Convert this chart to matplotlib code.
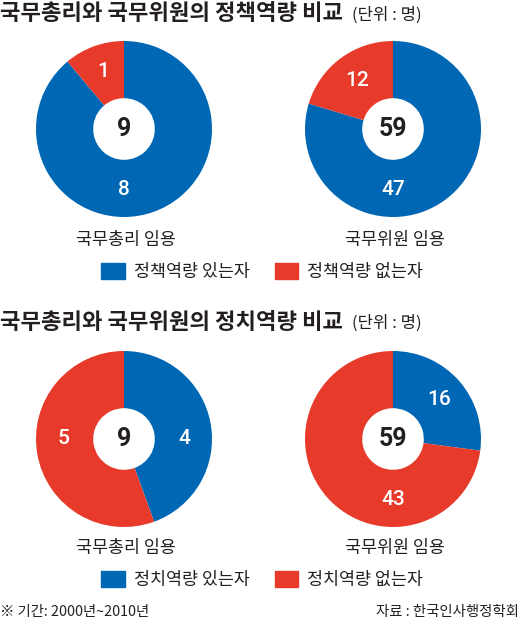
import matplotlib
matplotlib.use("Agg")
from matplotlib import pyplot as plt
from matplotlib.patches import Patch
import numpy as np

plt.rcParams["font.family"] = ["Noto Sans CJK KR", "DejaVu Sans"]

BLUE = "#0067b4"
RED = "#e73a2a"
INK = "#231f20"

W, H = 520, 627

groups = ["국무총리 임용", "국무위원 임용"]
policy_yes = [8, 47]
policy_no = [1, 12]
politics_yes = [4, 16]
politics_no = [5, 43]

titles = ["국무총리와 국무위원의 정책역량 비교", "국무총리와 국무위원의 정치역량 비교"]
legend_labels = [["정책역량 있는자", "정책역량 없는자"], ["정치역량 있는자", "정치역량 없는자"]]
unit = "(단위 : 명)"
note = "※ 기간: 2000년~2010년"
source = "자료 : 한국인사행정학회"

# where the value labels sit (degrees, per donut: [yes, no]); None = wedge middle
label_angles = [[(-90, None), (-90, None)], [(0, 180), (None, -90)]]

fig = plt.figure(figsize=(W / 100, H / 100), dpi=100)


def fx(px):
    return px / W


def fy(py):
    return 1 - py / H


def donut(cx, cy, yes, no, angles, r=88):
    ax = fig.add_axes([fx(cx - r), fy(cy + r), 2 * r / W, 2 * r / H])
    total = yes + no
    wedges, _ = ax.pie([yes, no], colors=[BLUE, RED], startangle=90,
                       counterclock=False, radius=1,
                       wedgeprops=dict(width=0.65, linewidth=0))
    for w, val, ang in zip(wedges, [yes, no], angles):
        if ang is None:
            ang = (w.theta1 + w.theta2) / 2
        a = np.deg2rad(ang)
        ax.text(0.69 * np.cos(a), 0.69 * np.sin(a), str(val), ha="center",
                va="center", color="white", fontsize=15, family="Roboto",
                fontweight="medium")
    ax.text(0, 0, str(total), ha="center", va="center", fontsize=18,
            family="Roboto", fontweight="bold", color=INK)
    ax.set_xlim(-1, 1)
    ax.set_ylim(-1, 1)
    ax.set_aspect("equal")
    ax.axis("off")


sections = [(policy_yes, policy_no, 14, 129, 240, 272),
            (politics_yes, politics_no, 322, 439, 548, 580)]

for k, (yes_vals, no_vals, ty, dy, ly, gy) in enumerate(sections):
    fig.text(fx(0), fy(ty), titles[k], fontsize=16, fontweight="heavy",
             color=INK, ha="left", va="center")
    fig.text(fx(352), fy(ty + 1), unit, fontsize=12, color=INK,
             ha="left", va="center")
    for i, cx in enumerate([124, 393]):
        donut(cx, dy, yes_vals[i], no_vals[i], label_angles[k][i])
        fig.text(fx(cx + 2), fy(ly), groups[i], fontsize=12.5, color=INK,
                 ha="center", va="center")
    handles = [Patch(color=BLUE), Patch(color=RED)]
    fig.legend(handles, legend_labels[k], loc="center",
               bbox_to_anchor=(fx(262), fy(gy)), ncol=2, frameon=False,
               fontsize=12.5, handlelength=1.38, handleheight=1.03,
               handletextpad=0.52, columnspacing=1.44, labelcolor=INK)

fig.text(fx(0), fy(612), note, fontsize=10.3, color=INK, ha="left", va="center")
fig.text(fx(519), fy(612), source, fontsize=10.4, color=INK, ha="right", va="center")

fig.savefig("out.png", dpi=100, facecolor="white")
